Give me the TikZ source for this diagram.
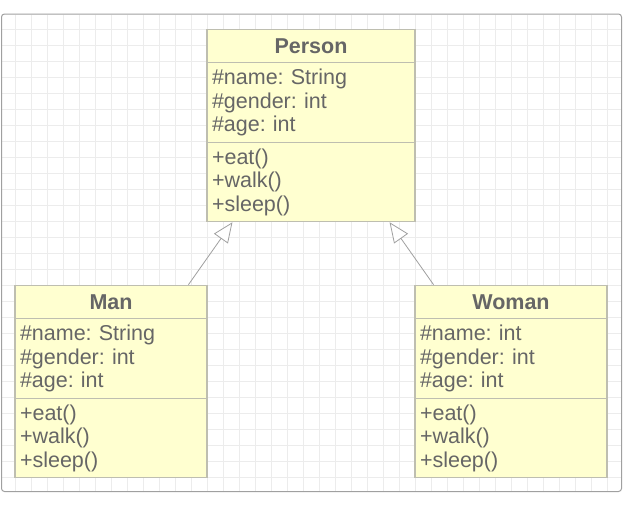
\documentclass[tikz,border=0pt]{standalone}
\usepackage{fontspec}
\setmainfont{Liberation Sans}
\usetikzlibrary{arrows.meta,calc}
\frenchspacing

\definecolor{umlfill}{RGB}{255,255,208}
\definecolor{umlline}{RGB}{190,190,176}
\definecolor{umltext}{RGB}{102,102,102}
\definecolor{gridgray}{RGB}{236,236,236}
\definecolor{framegray}{RGB}{160,160,160}

\tikzset{
  classbox/.style={draw=umlline, fill=umlfill, line width=1.5pt, text=umltext,
    inner xsep=5pt, inner ysep=0pt, font=\fontsize{21.5}{23.5}\selectfont},
  classhead/.style={classbox, minimum height=33pt, font=\fontsize{21.5}{23.5}\selectfont\bfseries},
  classattr/.style={classbox, minimum height=80pt, align=left},
  classops/.style={classbox, minimum height=79pt, align=left},
  inherit/.style={draw=framegray, line width=0.8pt,
    -{Triangle[length=20pt, width=17pt, fill=white]}}
}

\begin{document}
\begin{tikzpicture}[x=1pt, y=-1pt]
        \fill[white] (0,0) rectangle (623,507);
        \useasboundingbox (0,0) rectangle (623,507);

        % grid
        \foreach \x in {15,31,...,607}
            \draw[gridgray, line width=1pt] (\x,14.5) -- (\x,491);
        \foreach \y in {29.5,45.5,...,477.5}
            \draw[gridgray, line width=1pt] (2,\y) -- (621,\y);
        \draw[framegray, line width=1pt, rounded corners=3pt] (1.5,14) rectangle (621.5,491.5);

        \node[classhead, minimum width=208pt] (person) at (311,46) {Person};
        \node[classattr, text width=198pt] (personattr) at (311,102.5) {\#name: String\\\#gender: int\\\#age: int};
        \node[classops, text width=198pt] (personops) at (311,182) {+eat()\\+walk()\\+sleep()};

        \node[classhead, minimum width=192pt] (man) at (111,302) {Man};
        \node[classattr, text width=182pt] (manattr) at (111,358.5) {\#name: String\\\#gender: int\\\#age: int};
        \node[classops, text width=182pt] (manops) at (111,438) {+eat()\\+walk()\\+sleep()};

        \node[classhead, minimum width=192pt] (woman) at (511,302) {Woman};
        \node[classattr, text width=182pt] (womanattr) at (511,358.5) {\#name: int\\\#gender: int\\\#age: int};
        \node[classops, text width=182pt] (womanops) at (511,438) {+eat()\\+walk()\\+sleep()};

        \path[inherit] ($(man.north west)!0.9!(man.north east)$) -- ($(personops.south west)!0.125!(personops.south east)$);
        \path[inherit] ($(woman.north west)!0.1!(woman.north east)$) -- ($(personops.south west)!0.875!(personops.south east)$);

\end{tikzpicture}
\end{document}
